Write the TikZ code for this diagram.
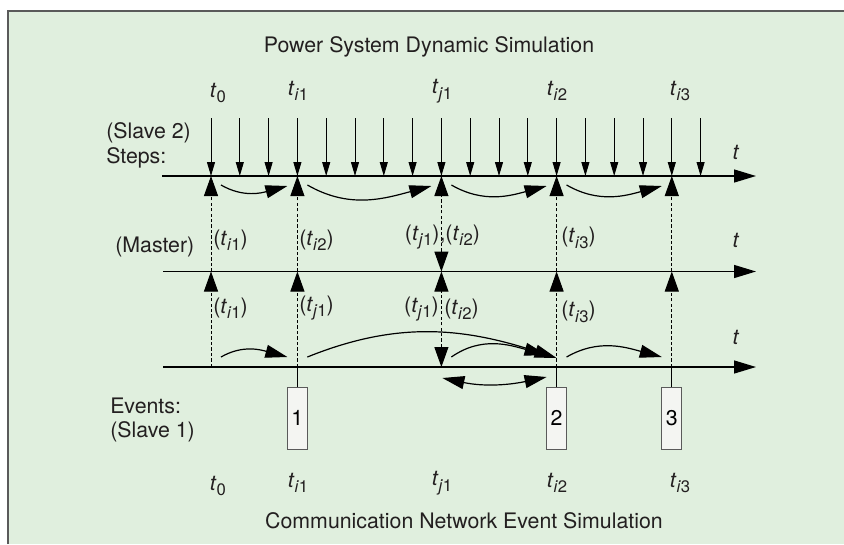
\documentclass[tikz,border=0pt]{standalone}
\usepackage{fontspec}
\setmainfont{TeX Gyre Heros}
\usetikzlibrary{arrows.meta,calc}

\definecolor{panel}{RGB}{224,239,222}
\definecolor{rim}{RGB}{90,90,90}
\definecolor{ink}{RGB}{35,31,32}
\definecolor{boxfill}{RGB}{244,245,242}

\newcommand{\tlab}[1]{\textit{t}\raisebox{-0.26em}{\fontsize{12.5}{14}\selectfont #1}}
\newcommand{\tmi}[1]{\tlab{\textit{i}#1}}
\newcommand{\tmj}[1]{\tlab{\textit{j}#1}}

\tikzset{
  axis/.style={line width=1pt, -{Triangle[length=16.5pt,width=9.75pt]}},
  steparrow/.style={line width=0.75pt, -{Triangle[length=10.5pt,width=6pt]}},
  dashline/.style={line width=0.75pt, dash pattern=on 2.5pt off 1.6pt},
  bigtip/.tip={Triangle[length=15pt,width=10.5pt]},
  flowtip/.tip={Triangle[length=16.5pt,width=9.75pt]},
  flow/.style={line width=0.9pt, -flowtip},
  evbox/.style={draw=rim, fill=boxfill, line width=0.75pt, minimum width=15pt,
    minimum height=46.5pt, inner sep=0pt},
  lab/.style={text=ink, inner sep=0pt}
}

\begin{document}
\begin{tikzpicture}[x=0.75pt, y=0.75pt, font=\fontsize{16}{19}\selectfont]
  \useasboundingbox (0,0) rectangle (844,-544);
  % panel
  \fill[panel] (8,-11) rectangle (844,-544);
  \draw[rim, line width=1.1pt] (8,-544) -- (8,-11) -- (844,-11);

  \node[lab] (title) at (429,-47) {Power System Dynamic Simulation};
  \node[lab] (caption) at (464,-521) {Communication Network Event Simulation};

  % the three time axes
  \coordinate (stepL) at (162,-176);  \coordinate (stepR) at (756,-176);
  \coordinate (mastL) at (163,-271.5); \coordinate (mastR) at (756,-271.5);
  \coordinate (evL) at (163,-367);    \coordinate (evR) at (756,-367);
  \draw[axis] (stepL) -- (stepR);
  \draw[axis] (mastL) -- (mastR);
  \draw[axis] (evL) -- (evR);
  \node[lab] (tstep) at (736,-152) {\textit{t}};
  \node[lab] (tmast) at (736,-240) {\textit{t}};
  \node[lab] (tev) at (736,-337) {\textit{t}};

  \node[lab, anchor=west] (slave2) at (106,-133) {(Slave 2)};
  \node[lab, anchor=west] (steps) at (106,-158) {Steps:};
  \node[lab, anchor=west] (master) at (115,-247) {(Master)};
  \node[lab, anchor=west] (events) at (110,-406) {Events:};
  \node[lab, anchor=west] (slave1) at (110,-432) {(Slave 1)};

  % integration steps
  \foreach \k in {0,...,17}{
    \coordinate (up\k) at (211+28.8*\k,-118);
    \coordinate (dn\k) at (211+28.8*\k,-176);
    \draw[steparrow] (up\k) -- (dn\k);
  }

  % synchronisation points
  \foreach \n/\x in {0/211, a/297.4, b/441.4, c/556.6, d/671.8}{
    \coordinate (S\n) at (\x,-176);
    \coordinate (M\n) at (\x,-271.5);
    \coordinate (E\n) at (\x,-367);
  }
  \node[lab] (top0) at (218,-93) {\tlab{0}};
  \node[lab] (topa) at (298,-91) {\tmi{1}};
  \node[lab] (topb) at (442,-91) {\tmj{1}};
  \node[lab] (topc) at (557,-91) {\tmi{2}};
  \node[lab] (topd) at (680,-91) {\tmi{3}};
  \node[lab] (bot0) at (218,-486) {\tlab{0}};
  \node[lab] (bota) at (298,-483) {\tmi{1}};
  \node[lab] (botb) at (442,-483) {\tmj{1}};
  \node[lab] (botc) at (557,-483) {\tmi{2}};
  \node[lab] (botd) at (680,-483) {\tmi{3}};

  % master <-> slave 2
  \foreach \n in {0,a,c,d}
    \draw[dashline, -bigtip] (M\n) -- (S\n);
  \draw[dashline, bigtip-bigtip] (Mb) -- (Sb);
  % slave 1 <-> master
  \foreach \n in {0,a,c,d}
    \draw[dashline, -bigtip] (E\n) -- (M\n);
  \draw[dashline, bigtip-bigtip] (Eb) -- (Mb);

  \node[lab, anchor=west] (up0) at (213,-240) {(\tmi{1})};
  \node[lab, anchor=west] (upa) at (299,-240) {(\tmi{2})};
  \node[lab] (upb) at (442.5,-237) {(\tmj{1}),(\tmi{2})};
  \node[lab, anchor=west] (upc) at (561,-238) {(\tmi{3})};
  \node[lab, anchor=west] (lo0) at (213,-308) {(\tmi{1})};
  \node[lab, anchor=west] (loa) at (299,-308) {(\tmj{1})};
  \node[lab, anchor=east] (lob1) at (439,-309) {(\tmj{1})};
  \node[lab, anchor=west] (lob2) at (444,-309) {(\tmi{2})};
  \node[lab, anchor=west] (loc) at (561,-312) {(\tmi{3})};

  % events
  \node[evbox] (box1) at (297.4,-418) {1};
  \node[evbox] (box2) at (556.6,-418) {2};
  \node[evbox] (box3) at (671.8,-418) {3};
  \draw[line width=0.75pt] (Ea) -- (box1);
  \draw[line width=0.75pt] (Ec) -- (box2);
  \draw[line width=0.75pt] (Ed) -- (box3);

  % advancing between synchronisation points
  \foreach \a/\b in {0/a, a/b, b/c, c/d}
    \draw[flow] ($(S\a)+(10,-9)$) to[out=-30, in=195] ($(S\b)+(-10,-10)$);
  \draw[flow] ($(E0)+(10,10)$) to[out=30, in=165] ($(Ea)+(-10,10)$);
  \draw[flow] ($(Ea)+(10,10)$) to[out=22, in=162] ($(Ec)+(0,9)$);
  \draw[flow] ($(Eb)+(10,10)$) to[out=35, in=165] ($(Ec)+(-10,12)$);
  \draw[flow] ($(Ec)+(10,10)$) to[out=30, in=165] ($(Ed)+(-10,10)$);
  \draw[line width=0.9pt, flowtip-flowtip] ($(Eb)+(1,-11)$) to[out=-12, in=192] ($(Ec)+(-10,-10)$);
\end{tikzpicture}
\end{document}
